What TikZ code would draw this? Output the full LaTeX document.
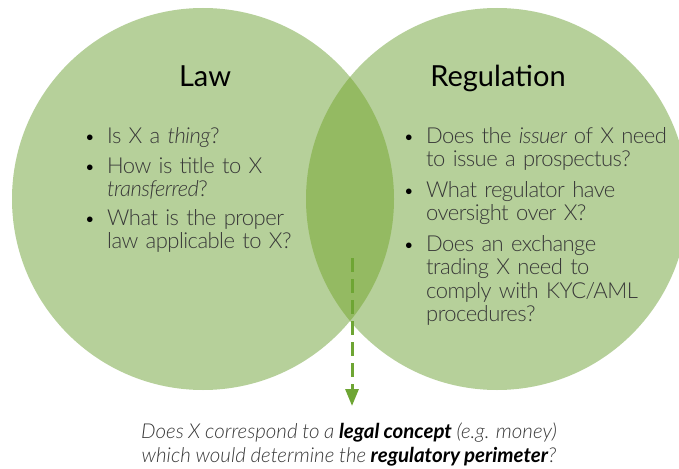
\documentclass[tikz,border=0pt]{standalone}
\usepackage{fontspec}
\setmainfont{Lato}[UprightFont=* Light, ItalicFont=* Light Italic, BoldFont=* Bold, BoldItalicFont=* Bold Italic, WordSpace=0.65, LetterSpace=-2.5]
\newfontfamily\titlefont{Lato}
\newfontfamily\qfont{Lato}[UprightFont=* Light, ItalicFont=* Light Italic, BoldFont=* Bold, BoldItalicFont=* Bold Italic, WordSpace=0.9]
\usetikzlibrary{arrows.meta}
\definecolor{lightg}{HTML}{B6D09A}
\definecolor{darkg}{HTML}{94BA62}
\definecolor{arrowg}{HTML}{6EA534}
\definecolor{txt}{HTML}{383838}
\begin{document}
\begin{tikzpicture}[x=1pt,y=-1pt,
  venn/.style={circle, minimum size=382pt, inner sep=0pt, fill=lightg},
  title/.style={inner sep=0pt, anchor=base, font=\titlefont\fontsize{29}{34}\selectfont, text=black},
  itemtext/.style={inner sep=0pt, anchor=base west, align=left, text width=250pt,
    font=\fontsize{22}{23.5}\selectfont, text=txt},
  dot/.style={inner sep=0pt, anchor=base, font=\fontsize{19}{20}\selectfont, text=black},
  question/.style={inner sep=0pt, align=center, font=\qfont\itshape\fontsize{20.5}{24}\selectfont, text=txt},
  flow/.style={draw=arrowg, line width=3pt, dash pattern=on 14pt off 7pt, -{Triangle[length=17pt,width=13pt]}}
]
\useasboundingbox (0,0) rectangle (679,468);
\node[venn] (law) at (203,199) {};
\node[venn] (reg) at (497,199) {};
\begin{scope}
  \clip (203,199) circle (191);
  \fill[darkg] (497,199) circle (191);
\end{scope}

\node[title] (lawt) at (205,87) {Law};
\node[title] (regt) at (498,87) {Regulation};

\node[dot] (b1) at (90,143) {\textbullet};
\node[itemtext] (l1) at (107,143) {Is X a \textit{thing}?};
\node[dot] (b2) at (90,173) {\textbullet};
\node[itemtext] (l2) at (107,173) {How is title to X\\\textit{transferred}?};
\node[dot] (b3) at (90,225) {\textbullet};
\node[itemtext] (l3) at (107,225) {What is the proper\\law applicable to X?};

\node[dot] (b4) at (409,143) {\textbullet};
\node[itemtext] (r1) at (426,143) {Does the \textit{issuer} of X need\\to issue a prospectus?};
\node[dot] (b5) at (409,197) {\textbullet};
\node[itemtext] (r2) at (426,197) {What regulator have\\oversight over X?};
\node[dot] (b6) at (409,251) {\textbullet};
\node[itemtext] (r3) at (426,251) {Does an exchange\\trading X need to\\comply with KYC/AML\\procedures?};

\node[question, anchor=base] (q) at (349,462) {Does X correspond to a \textcolor{black}{\textbf{legal concept}} (e.g. money)\\which would determine the \textcolor{black}{\textbf{regulatory perimeter}}?};

\coordinate (as) at (352,258);
\coordinate (ae) at (352,406);
\draw[flow] (as) -- (ae);
\end{tikzpicture}
\end{document}
